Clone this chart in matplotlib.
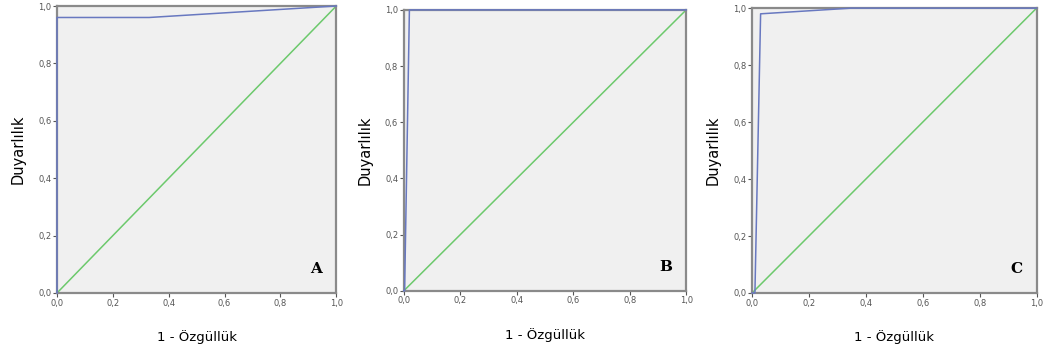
import numpy as np
import matplotlib.pyplot as plt

# ---------- ROC data ----------
fpr_a = [0.0, 0.0, 0.33, 1.0]
tpr_a = [0.0, 0.96, 0.96, 1.0]

fpr_b = [0.0, 0.003, 0.02, 1.0]
tpr_b = [0.0, 0.0, 1.0, 1.0]

fpr_c = [0.0, 0.01, 0.03, 0.35, 1.0]
tpr_c = [0.0, 0.0, 0.98, 1.0, 1.0]

panels = ['A', 'B', 'C']
ticks = [0.0, 0.2, 0.4, 0.6, 0.8, 1.0]
tick_labels = ['0,0', '0,2', '0,4', '0,6', '0,8', '1,0']

# axes boxes in figure fractions
boxes = [
    [0.0545, 0.170, 0.267, 0.813],
    [0.386, 0.176, 0.270, 0.796],
    [0.719, 0.170, 0.272, 0.807],
]

fig = plt.figure(figsize=(10.46, 3.53), dpi=100)

for box, fx, ty, letter in zip(boxes, [fpr_a, fpr_b, fpr_c], [tpr_a, tpr_b, tpr_c], panels):
    ax = fig.add_axes(box)
    ax.set_facecolor('#f0f0f0')
    ax.plot([0, 1], [0, 1], color='#6cc96c', lw=1.1)
    ax.plot(fx, ty, color='#6878c0', lw=1.1, clip_on=False, zorder=5)
    ax.set_xlim(0, 1)
    ax.set_ylim(0, 1)
    ax.set_xticks(ticks)
    ax.set_xticklabels(tick_labels)
    ax.set_yticks(ticks)
    ax.set_yticklabels(tick_labels)
    ax.tick_params(labelsize=6, colors='#555555', length=3, width=0.8, pad=1)
    for s in ax.spines.values():
        s.set_color('#8a8a8a')
        s.set_linewidth(1.6)
    ax.set_ylabel('Duyarlılık', fontsize=10.5, labelpad=9)
    ax.set_xlabel('1 - Özgüllük', fontsize=9.5, labelpad=16)
    ax.text(0.95, 0.06, letter, transform=ax.transAxes, ha='right', va='bottom',
            fontsize=11, fontweight='bold', family='DejaVu Serif')

fig.savefig('out.png', dpi=100)
